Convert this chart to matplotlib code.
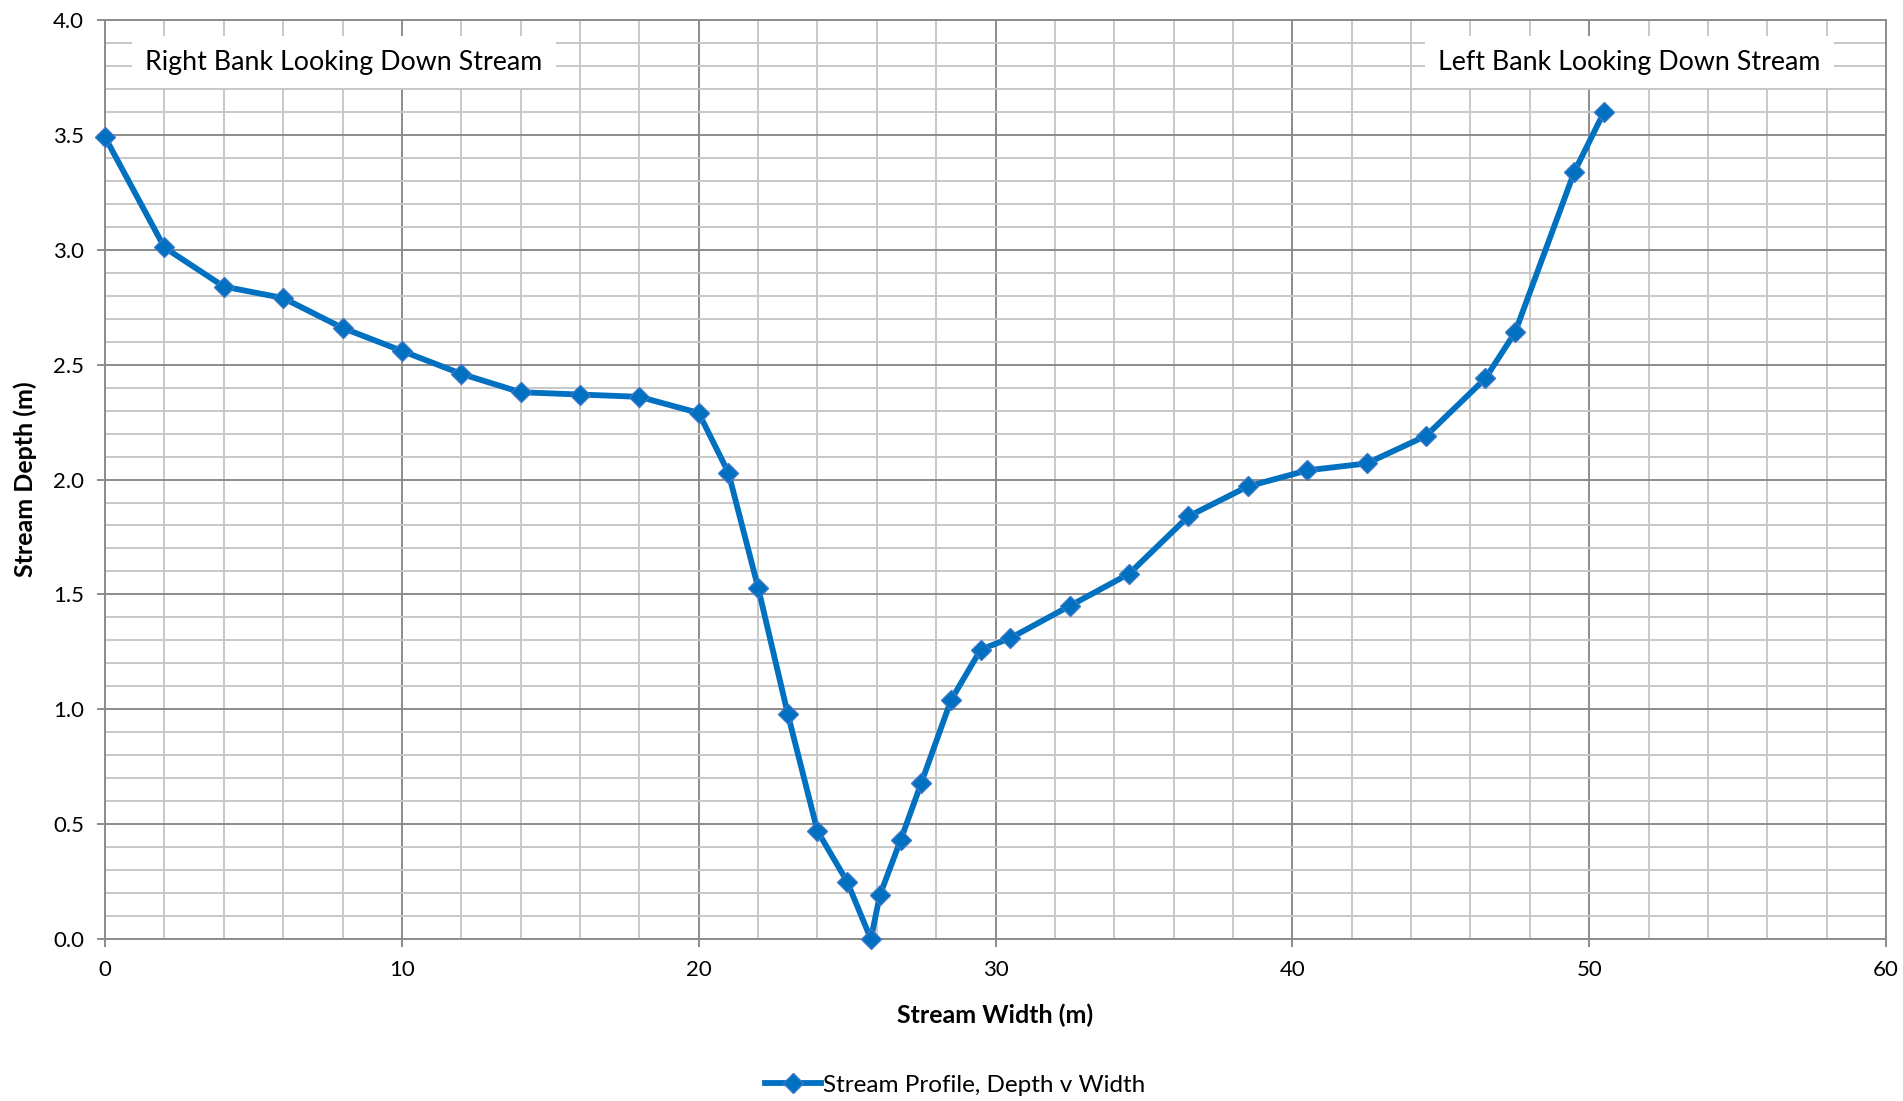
import matplotlib.pyplot as plt
from matplotlib.ticker import MultipleLocator

plt.rcParams['font.family'] = ['Lato', 'DejaVu Sans']

# Stream width (m) along the transect
width = [0, 2, 4, 6, 8, 10, 12, 14, 16, 18, 20, 21, 22, 23, 24, 25, 25.8,
         26.1, 26.8, 27.5, 28.5, 29.5, 30.5, 32.5, 34.5, 36.5, 38.5, 40.5,
         42.5, 44.5, 46.5, 47.5, 49.5, 50.5]

# Stream depth (m) at each point
depth = [3.49, 3.01, 2.84, 2.79, 2.66, 2.56, 2.46, 2.38, 2.37, 2.36, 2.29,
         2.03, 1.53, 0.98, 0.47, 0.25, 0.0, 0.19, 0.43, 0.68, 1.04, 1.26,
         1.31, 1.45, 1.59, 1.84, 1.97, 2.04, 2.07, 2.19, 2.44, 2.64, 3.34, 3.60]

series_label = "Stream Profile, Depth v Width"
right_bank = "Right Bank Looking Down Stream"
left_bank = "Left Bank Looking Down Stream"

blue = '#0070C0'
major_grey = '#8C8C8C'
minor_grey = '#C8C8C8'

fig = plt.figure(figsize=(19.03, 11.01), dpi=100)
ax = fig.add_axes([0.0552, 0.1471, 0.9359, 0.8347])

ax.plot(width, depth, color=blue, lw=4.2, marker='D', markersize=10,
        markerfacecolor=blue, markeredgecolor='#3C78C8', markeredgewidth=1,
        label=series_label, zorder=3, clip_on=False)

ax.set_xlim(0, 60)
ax.set_ylim(0, 4.0)
ax.xaxis.set_major_locator(MultipleLocator(10))
ax.xaxis.set_minor_locator(MultipleLocator(2))
ax.yaxis.set_major_locator(MultipleLocator(0.5))
ax.yaxis.set_minor_locator(MultipleLocator(0.1))
ax.yaxis.set_major_formatter(lambda v, p: f"{v:.1f}")

ax.set_axisbelow(True)
ax.grid(which='minor', color=minor_grey, lw=1.4)
ax.grid(which='major', color=major_grey, lw=1.4)
for s in ax.spines.values():
    s.set_color(major_grey)
    s.set_linewidth(1.4)

ax.tick_params(which='major', direction='out', length=6, width=1.4,
               color=major_grey, labelsize=16, pad=9)
ax.tick_params(which='minor', length=0)

ax.set_xlabel("Stream Width (m)", fontsize=18, fontweight='bold', labelpad=17)
ax.set_ylabel("Stream Depth (m)", fontsize=18, fontweight='bold', labelpad=12)

box = dict(boxstyle='square,pad=0.5', facecolor='white', edgecolor='none')
ax.text(0.134, 0.954, right_bank, transform=ax.transAxes, ha='center',
        va='center', fontsize=19.3, bbox=box, zorder=2)
ax.text(0.856, 0.954, left_bank, transform=ax.transAxes, ha='center',
        va='center', fontsize=19.3, bbox=box, zorder=2)

fig.legend(loc='center', bbox_to_anchor=(0.502, 0.0145), frameon=False,
           fontsize=17.5, handlelength=2.3, handletextpad=0.1)

fig.savefig('out.png', dpi=100)
